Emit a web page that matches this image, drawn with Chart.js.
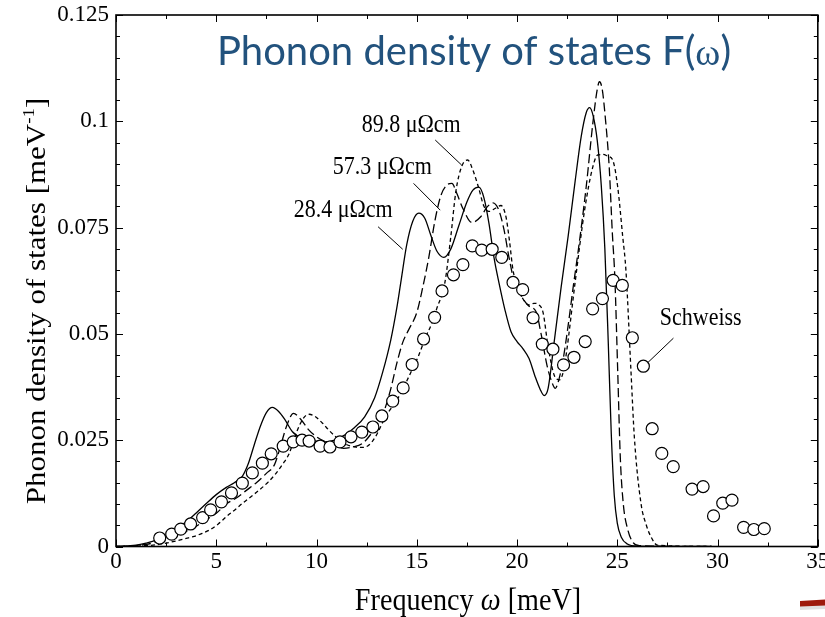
<!DOCTYPE html>
<html><head><meta charset="utf-8">
<script src="https://cdn.jsdelivr.net/npm/chart.js@4.4.1/dist/chart.umd.min.js"></script>
<style>html,body{margin:0;padding:0;background:#fff;}#wrap{width:825px;height:617px;}</style>
</head><body><div id="wrap"><canvas id="c" width="825" height="617"></canvas></div>
<script>
// ---- data (meV, meV^-1) ----
const freq284 = [0,1,1.5,2,2.5,3,3.5,4,4.5,5,5.5,5.9,6.3,6.6,6.9,7.2,7.5,7.8,8.1,8.4,8.8,9.3,9.8,10.4,10.9,11.4,11.9,12.4,12.9,13.3,13.7,14.0,14.2,14.5,14.8,15.1,15.4,15.7,16.0,16.35,16.7,17.1,17.5,17.8,18.1,18.35,18.6,18.85,19.1,19.4,19.7,20.0,20.3,20.6,20.9,21.15,21.35,21.55,21.85,22.2,22.55,22.9,23.2,23.45,23.62,23.8,24.0,24.2,24.38,24.55,24.7,24.85,25.0,25.2,25.5,26,29.7];
const dos284  = [0,0.0003,0.0008,0.0015,0.0027,0.0041,0.0058,0.0079,0.0101,0.0122,0.0139,0.0150,0.0165,0.0195,0.0240,0.0283,0.0315,0.0327,0.0318,0.0300,0.0270,0.0254,0.0249,0.0246,0.0250,0.0262,0.0280,0.0305,0.0350,0.0410,0.0485,0.0560,0.0620,0.0710,0.0765,0.0784,0.0772,0.0732,0.0695,0.0680,0.0700,0.0755,0.0810,0.0838,0.0845,0.0820,0.0760,0.0680,0.0620,0.0556,0.0505,0.0482,0.0465,0.0442,0.0400,0.0370,0.0355,0.0372,0.0480,0.0610,0.0730,0.0860,0.0964,0.1020,0.1032,0.1012,0.0955,0.0850,0.0700,0.0480,0.0265,0.0120,0.0055,0.0022,0.0006,0.0001,0];

const freq573 = [0,1,1.5,2,2.5,3,3.5,4,4.5,5,5.5,6,6.5,7,7.5,7.9,8.2,8.5,8.85,9.2,9.6,10.0,10.5,11.0,11.35,11.8,12.3,12.8,13.3,13.7,14.0,14.3,14.6,15.0,15.3,15.6,15.9,16.2,16.5,16.75,17.0,17.3,17.75,18.2,18.5,18.8,19.1,19.35,19.6,19.85,20.2,20.6,20.95,21.2,21.5,21.75,21.91,22.1,22.3,22.55,22.8,23.05,23.45,23.78,24.0,24.11,24.25,24.4,24.6,24.75,24.88,25.02,25.15,25.3,25.52,25.75,26.1,29.7];
const dos573  = [0,0.0002,0.0005,0.0010,0.0018,0.0026,0.0036,0.0048,0.0063,0.0078,0.0100,0.0114,0.0132,0.0150,0.0172,0.0192,0.0235,0.0282,0.0313,0.0300,0.0275,0.0258,0.0245,0.0235,0.0231,0.0234,0.0243,0.0270,0.0310,0.0370,0.0430,0.0480,0.0510,0.0550,0.0610,0.0680,0.0765,0.0825,0.0850,0.0854,0.0830,0.0795,0.0762,0.0776,0.0798,0.0808,0.0790,0.0745,0.0680,0.0625,0.0590,0.0565,0.0552,0.0500,0.0425,0.0385,0.0372,0.0395,0.0440,0.0520,0.0610,0.0695,0.0846,0.0995,0.1075,0.1093,0.1075,0.1010,0.0890,0.0740,0.0630,0.0415,0.0210,0.0100,0.0040,0.0012,0.0002,0];

const freq898 = [0,1,2,2.5,3,3.5,3.84,4.3,4.67,5.1,5.5,6,6.32,6.7,7.15,7.6,7.98,8.3,8.64,8.9,9.15,9.4,9.63,9.95,10.3,10.65,10.96,11.4,11.8,12.3,12.6,12.94,13.44,14.1,14.76,15.1,15.42,15.75,16.0,16.4,16.7,16.95,17.25,17.54,17.8,18.07,18.35,18.6,18.9,19.2,19.45,19.62,19.8,20.0,20.3,20.6,20.85,21.1,21.3,21.55,21.88,22.13,22.3,22.46,22.87,23.37,23.78,24.03,24.3,24.52,24.77,25.02,25.27,25.43,25.68,25.85,26.18,26.45,26.68,27.0,29.7];
const dos898  = [0,0.0001,0.0004,0.0008,0.0013,0.0019,0.0023,0.0031,0.0039,0.0053,0.0070,0.0089,0.0102,0.0116,0.0133,0.0152,0.0172,0.0193,0.0219,0.0255,0.0285,0.0305,0.0311,0.0305,0.0290,0.0272,0.0258,0.0242,0.0235,0.0233,0.0238,0.0258,0.0305,0.0352,0.0415,0.0450,0.0490,0.0525,0.0560,0.0620,0.0730,0.0835,0.0895,0.0909,0.0885,0.0846,0.0800,0.0788,0.0795,0.0802,0.0775,0.0720,0.0650,0.0615,0.0582,0.0568,0.0572,0.0568,0.0550,0.0470,0.0400,0.0392,0.0410,0.0454,0.0611,0.0791,0.0893,0.0921,0.0922,0.0918,0.0909,0.0846,0.0729,0.0650,0.0415,0.0258,0.0102,0.0050,0.0023,0.0003,0];

const schweissFreq = [2.18,2.78,3.23,3.72,4.32,4.72,5.26,5.76,6.30,6.80,7.30,7.74,8.34,8.84,9.28,9.63,10.18,10.67,11.17,11.72,12.26,12.81,13.26,13.80,14.32,14.77,15.34,15.89,16.26,16.83,17.30,17.77,18.24,18.76,19.24,19.80,20.28,20.80,21.26,21.79,22.32,22.84,23.40,23.77,24.26,24.79,25.25,25.75,26.30,26.74,27.22,27.79,28.73,29.28,29.80,30.26,30.72,31.30,31.81,32.33];
const schweissDos  = [0.0020,0.0029,0.0041,0.0053,0.0068,0.0086,0.0105,0.0126,0.0149,0.0173,0.0196,0.0218,0.0236,0.0246,0.0250,0.0248,0.0236,0.0234,0.0246,0.0258,0.0269,0.0281,0.0307,0.0342,0.0373,0.0428,0.0488,0.0539,0.0601,0.0639,0.0663,0.0707,0.0697,0.0699,0.0680,0.0621,0.0604,0.0538,0.0476,0.0464,0.0427,0.0445,0.0482,0.0559,0.0583,0.0626,0.0614,0.0491,0.0424,0.0277,0.0219,0.0188,0.0135,0.0141,0.0072,0.0102,0.0109,0.0045,0.0040,0.0042];

// annotation labels (text, anchor in data units, leader line start/end in data units)
const annotTexts = ['89.8 μΩcm','57.3 μΩcm','28.4 μΩcm','Schweiss'];
const annotAt    = [[14.72,0.0975],[13.28,0.0877],[11.33,0.0776],[29.16,0.0521]];
const leaderFrom = [[15.92,0.0956],[14.84,0.0854],[13.07,0.0752],[27.80,0.0490]];
const leaderTo   = [[17.24,0.0897],[16.17,0.0791],[14.30,0.0699],[26.51,0.0432]];

const xMajor = 5, yMajor = 0.025;
const SERIF = '"Liberation Serif","Times New Roman",serif';
const SQ = 0.88;

function isMult(v, m){ const r = v/m; return Math.abs(r-Math.round(r)) < 1e-6; }
function pts(xs, ys){ return xs.map((x,i)=>({x:x, y:ys[i]})); }

function drawSq(ctx, parts, x, y, align, sq){
  ctx.save();
  ctx.translate(x,y); ctx.scale(sq===undefined?SQ:sq,1);
  let w=0; parts.forEach(p=>{ctx.font=p.font; w+=ctx.measureText(p.t).width;});
  let cx = align==='center' ? -w/2 : 0;
  ctx.textAlign='left'; ctx.textBaseline='alphabetic';
  parts.forEach(p=>{ctx.font=p.font; ctx.fillText(p.t,cx,p.dy||0); cx+=ctx.measureText(p.t).width;});
  ctx.restore();
}

const decor = {
  id:'decor',
  afterDatasetsDraw(chart){
    const ctx = chart.ctx, a = chart.chartArea, xs = chart.scales.x, ys = chart.scales.y;
    ctx.save();
    ctx.strokeStyle='#000'; ctx.lineWidth=1;
    xs.ticks.forEach(t=>{
      const px = Math.round(xs.getPixelForValue(t.value))+0.5;
      const L = isMult(t.value,xMajor)?7:4;
      ctx.beginPath(); ctx.moveTo(px,a.bottom); ctx.lineTo(px,a.bottom-L);
      ctx.moveTo(px,a.top); ctx.lineTo(px,a.top+L); ctx.stroke();
    });
    ys.ticks.forEach(t=>{
      const py = Math.round(ys.getPixelForValue(t.value))+0.5;
      const L = isMult(t.value,yMajor)?7:4;
      ctx.beginPath(); ctx.moveTo(a.left,py); ctx.lineTo(a.left+L,py);
      ctx.moveTo(a.right,py); ctx.lineTo(a.right-L,py); ctx.stroke();
    });
    ctx.lineWidth=1.6;
    ctx.strokeRect(a.left, a.top, a.right-a.left, a.bottom-a.top);
    ctx.lineWidth=1;
    for(let i=0;i<annotTexts.length;i++){
      ctx.beginPath();
      ctx.moveTo(xs.getPixelForValue(leaderFrom[i][0]), ys.getPixelForValue(leaderFrom[i][1]));
      ctx.lineTo(xs.getPixelForValue(leaderTo[i][0]), ys.getPixelForValue(leaderTo[i][1]));
      ctx.stroke();
    }
    ctx.fillStyle='#000';
    for(let i=0;i<annotTexts.length;i++){
      drawSq(ctx,[{t:annotTexts[i],font:'25px '+SERIF}], xs.getPixelForValue(annotAt[i][0]), ys.getPixelForValue(annotAt[i][1]),'center');
    }
    ctx.restore();
  },
  afterDraw(chart){
    const ctx = chart.ctx;
    ctx.save();
    ctx.fillStyle='#22527d';
    drawSq(ctx,[{t:'Phonon density of states ',font:'40px Lato, "Open Sans", sans-serif'},{t:'F(',font:'40px Lato, "Open Sans", sans-serif'},{t:'ω',font:'38px '+SERIF},{t:')',font:'40px Lato, "Open Sans", sans-serif'}], 474, 65, 'center', 1);
    ctx.fillStyle='#000';
    drawSq(ctx,[{t:'Frequency ',font:'32px '+SERIF},{t:'ω',font:'italic 32px '+SERIF},{t:' [meV]',font:'32px '+SERIF}], 468, 610, 'center');
    ctx.save();
    ctx.translate(45, 301); ctx.scale(SQ,1); ctx.rotate(-Math.PI/2);
    const parts=[{t:'Phonon density of states [meV',font:'31px '+SERIF},{t:'-1',font:'19px '+SERIF,dy:-12},{t:']',font:'31px '+SERIF}];
    let w=0; parts.forEach(p=>{ctx.font=p.font; w+=ctx.measureText(p.t).width;});
    let cx=-w/2; ctx.textBaseline='alphabetic'; ctx.textAlign='left';
    parts.forEach(p=>{ctx.font=p.font; ctx.fillText(p.t,cx,p.dy||0); cx+=ctx.measureText(p.t).width;});
    ctx.restore();
    ctx.fillStyle='rgba(0,0,0,0.12)';
    ctx.beginPath(); ctx.moveTo(800,604); ctx.lineTo(825,602); ctx.lineTo(825,609); ctx.lineTo(800,610); ctx.closePath(); ctx.fill();
    ctx.fillStyle='#9e1a0c';
    ctx.beginPath(); ctx.moveTo(800,601); ctx.lineTo(825,599.5); ctx.lineTo(825,605.5); ctx.lineTo(800,606.5); ctx.closePath(); ctx.fill();
    ctx.restore();
  }
};

const lineBase = {showLine:true, pointRadius:0, borderColor:'#000', borderWidth:1.3, cubicInterpolationMode:'monotone', fill:false};

new Chart(document.getElementById('c'), {
  type:'scatter',
  data:{datasets:[
    {label:'Schweiss', data:pts(schweissFreq,schweissDos), showLine:false, pointRadius:6, pointBackgroundColor:'#fff', pointBorderColor:'#000', pointBorderWidth:1.2},
    Object.assign({label:'28.4 μΩcm', data:pts(freq284,dos284)}, lineBase),
    Object.assign({label:'57.3 μΩcm', data:pts(freq573,dos573), borderDash:[9,4]}, lineBase),
    Object.assign({label:'89.8 μΩcm', data:pts(freq898,dos898), borderDash:[4,3]}, lineBase)
  ]},
  options:{
    responsive:false, animation:false, devicePixelRatio:1,
    layout:{padding:{left:0,right:4,top:15,bottom:0}},
    plugins:{legend:{display:false}, tooltip:{enabled:false}, title:{display:false}},
    scales:{
      x:{type:'linear', min:0, max:35,
        grid:{display:false, drawTicks:false}, border:{display:false},
        ticks:{stepSize:2.5, autoSkip:false, maxRotation:0, padding:2, color:'#000',
          font:{family:SERIF, size:23},
          callback:(v)=> isMult(v,xMajor) ? String(Math.round(v)) : ''},
        afterFit:(s)=>{ s.height=70.5; s.paddingLeft=0; s.paddingRight=0; }},
      y:{type:'linear', min:0, max:0.125,
        grid:{display:false, drawTicks:false}, border:{display:false},
        ticks:{stepSize:0.005, autoSkip:false, padding:7, color:'#000',
          font:{family:SERIF, size:23},
          callback:(v)=> isMult(v,yMajor) ? String(+v.toFixed(3)) : ''},
        afterFit:(s)=>{ s.width=116; s.paddingTop=0; s.paddingBottom=0; }}
    }
  },
  plugins:[decor]
});
</script></body></html>
